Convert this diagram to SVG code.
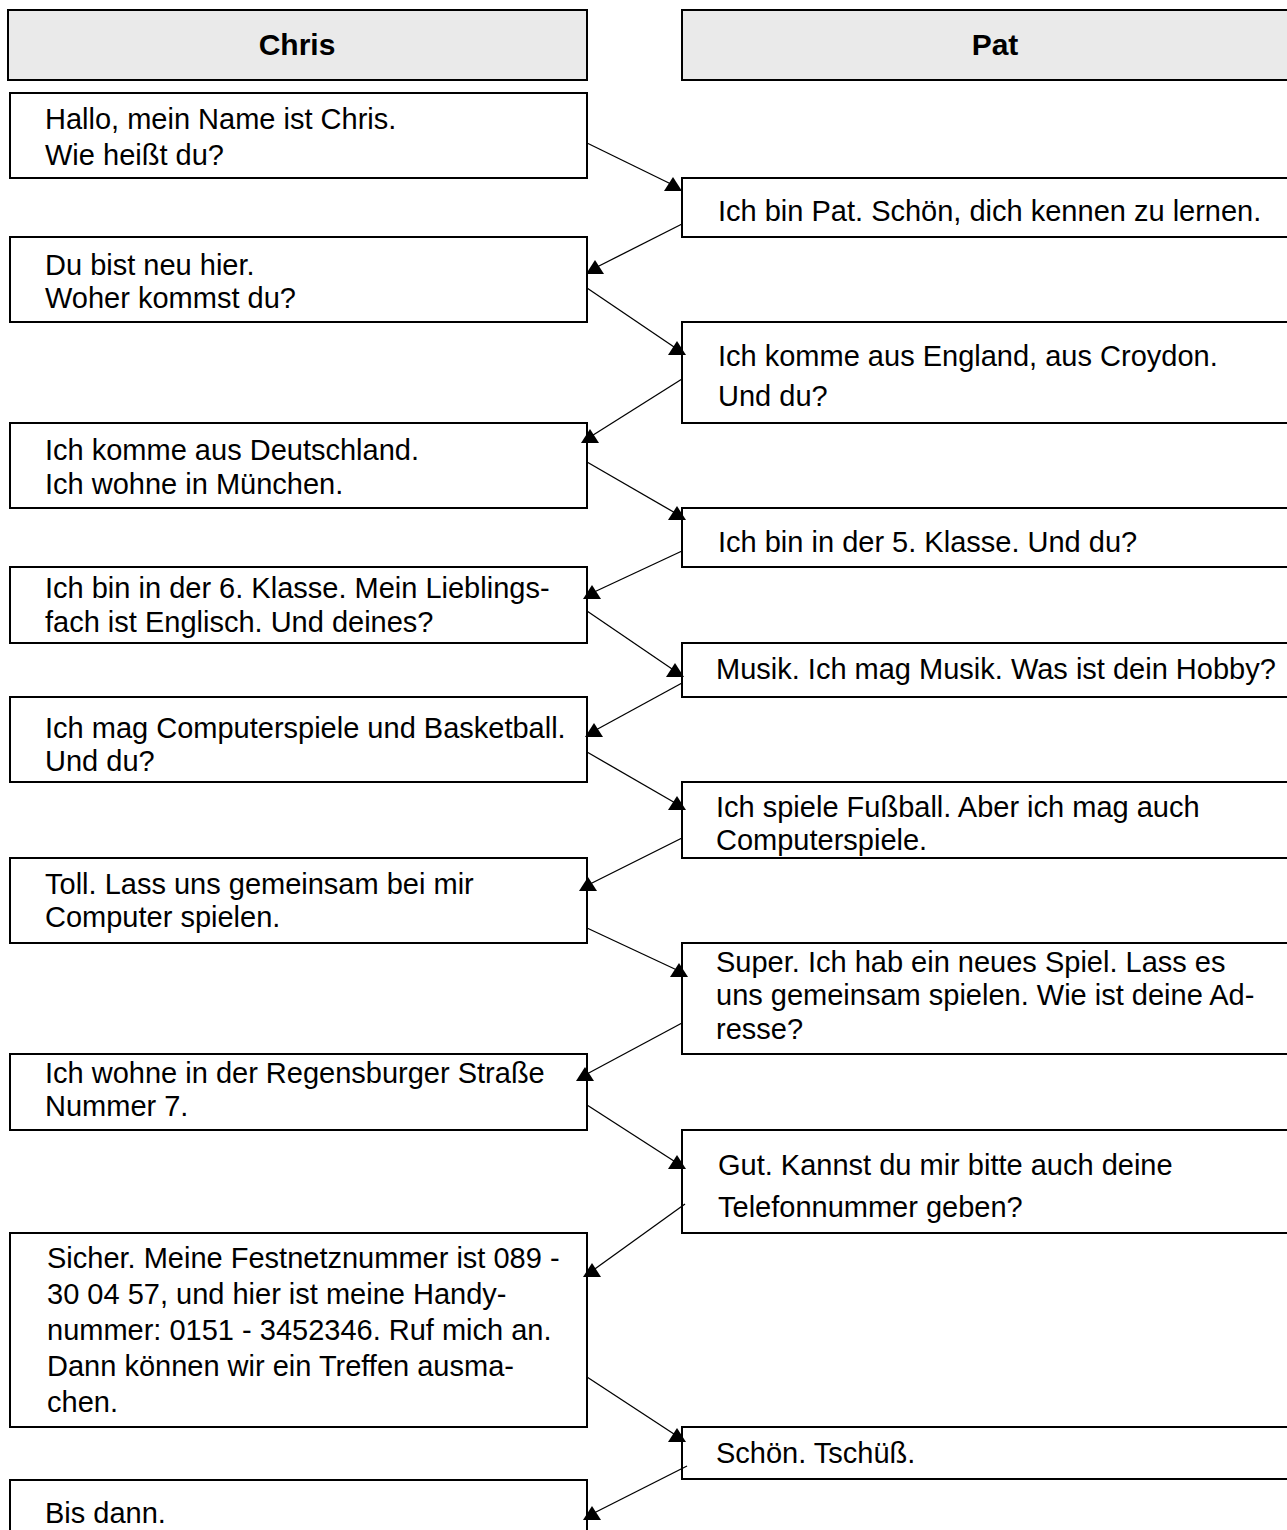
<svg xmlns="http://www.w3.org/2000/svg" width="1287" height="1530" viewBox="0 0 1287 1530">
<style>
.box{fill:#fff;stroke:#000;stroke-width:2}
.hdr{fill:#eaeaea;stroke:#000;stroke-width:2}
text{font-family:"Liberation Sans",Arial,sans-serif;font-size:29px;fill:#000}
.h{font-weight:bold;text-anchor:middle;font-size:30px}
.c line{stroke:#000;stroke-width:1.3;marker-end:url(#ah)}
</style>
<defs>
<marker id="ah" markerUnits="userSpaceOnUse" markerWidth="22" markerHeight="22" viewBox="-11 -11 22 22" refX="0" refY="0" orient="0"><path d="M0,-8 L9,6 L-9,6 Z" fill="#000"/></marker>
</defs>
<rect width="1287" height="1530" fill="#fff"/>
<g id="hdr-chris"><rect class="hdr" x="8" y="10" width="579" height="70"/><text class="h" x="297" y="55">Chris</text></g>
<g id="hdr-pat"><rect class="hdr" x="682" y="10" width="630" height="70"/><text class="h" x="995" y="55">Pat</text></g>

<g id="L1"><rect class="box" x="10" y="93" width="577" height="85"/><text x="45" y="129">Hallo, mein Name ist Chris.</text><text x="45" y="165">Wie heißt du?</text></g>
<g id="R1"><rect class="box" x="682" y="178" width="630" height="59"/><text x="718" y="221">Ich bin Pat. Schön, dich kennen zu lernen.</text></g>
<g id="L2"><rect class="box" x="10" y="237" width="577" height="85"/><text x="45" y="275">Du bist neu hier.</text><text x="45" y="308">Woher kommst du?</text></g>
<g id="R2"><rect class="box" x="682" y="322" width="630" height="101"/><text x="718" y="366">Ich komme aus England, aus Croydon.</text><text x="718" y="406">Und du?</text></g>
<g id="L3"><rect class="box" x="10" y="423" width="577" height="85"/><text x="45" y="460">Ich komme aus Deutschland.</text><text x="45" y="494">Ich wohne in München.</text></g>
<g id="R3"><rect class="box" x="682" y="508" width="630" height="59"/><text x="718" y="552">Ich bin in der 5. Klasse. Und du?</text></g>
<g id="L4"><rect class="box" x="10" y="567" width="577" height="76"/><text x="45" y="598">Ich bin in der 6. Klasse. Mein Lieblings-</text><text x="45" y="632">fach ist Englisch. Und deines?</text></g>
<g id="R4"><rect class="box" x="682" y="643" width="630" height="54"/><text x="716" y="679">Musik. Ich mag Musik. Was ist dein Hobby?</text></g>
<g id="L5"><rect class="box" x="10" y="697" width="577" height="85"/><text x="45" y="738">Ich mag Computerspiele und Basketball.</text><text x="45" y="771">Und du?</text></g>
<g id="R5"><rect class="box" x="682" y="782" width="630" height="76"/><text x="716" y="817">Ich spiele Fußball. Aber ich mag auch</text><text x="716" y="850">Computerspiele.</text></g>
<g id="L6"><rect class="box" x="10" y="858" width="577" height="85"/><text x="45" y="894">Toll. Lass uns gemeinsam bei mir</text><text x="45" y="927">Computer spielen.</text></g>
<g id="R6"><rect class="box" x="682" y="943" width="630" height="111"/><text x="716" y="972">Super. Ich hab ein neues Spiel. Lass es</text><text x="716" y="1005">uns gemeinsam spielen. Wie ist deine Ad-</text><text x="716" y="1039">resse?</text></g>
<g id="L7"><rect class="box" x="10" y="1054" width="577" height="76"/><text x="45" y="1083">Ich wohne in der Regensburger Straße</text><text x="45" y="1116">Nummer 7.</text></g>
<g id="R7"><rect class="box" x="682" y="1130" width="630" height="103"/><text x="718" y="1175">Gut. Kannst du mir bitte auch deine</text><text x="718" y="1217">Telefonnummer geben?</text></g>
<g id="L8"><rect class="box" x="10" y="1233" width="577" height="194"/><text x="47" y="1268">Sicher. Meine Festnetznummer ist 089 -</text><text x="47" y="1304">30 04 57, und hier ist meine Handy-</text><text x="47" y="1340">nummer: 0151 - 3452346. Ruf mich an.</text><text x="47" y="1376">Dann können wir ein Treffen ausma-</text><text x="47" y="1412">chen.</text></g>
<g id="R8"><rect class="box" x="682" y="1427" width="630" height="52"/><text x="716" y="1463">Schön. Tschüß.</text></g>
<g id="L9"><rect class="box" x="10" y="1480" width="577" height="100"/><text x="45" y="1523">Bis dann.</text></g>

<g id="connectors" class="c">
<line x1="587" y1="143" x2="673" y2="185"/>
<line x1="682" y1="224" x2="595" y2="268"/>
<line x1="587" y1="288" x2="677" y2="349"/>
<line x1="682" y1="379" x2="590" y2="437"/>
<line x1="587" y1="462" x2="677" y2="514"/>
<line x1="682" y1="551" x2="592" y2="593"/>
<line x1="587" y1="611" x2="675" y2="671"/>
<line x1="682" y1="683" x2="594" y2="731"/>
<line x1="587" y1="752" x2="677" y2="804"/>
<line x1="682" y1="838" x2="588" y2="885"/>
<line x1="587" y1="928" x2="679" y2="971"/>
<line x1="682" y1="1023" x2="585" y2="1075"/>
<line x1="587" y1="1105" x2="677" y2="1163"/>
<line x1="685" y1="1204" x2="592" y2="1271"/>
<line x1="587" y1="1377" x2="677" y2="1436"/>
<line x1="687" y1="1466" x2="592" y2="1514"/>
</g>
</svg>
